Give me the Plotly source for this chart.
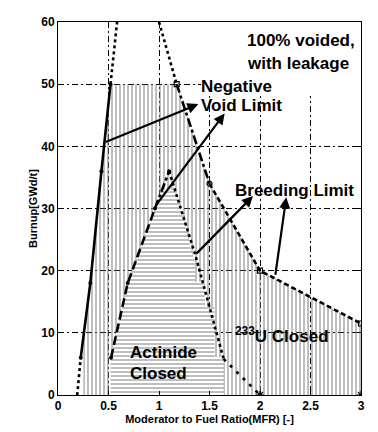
import plotly.graph_objects as go

# ---------------- data ----------------
x_ticks = [0, 0.5, 1, 1.5, 2, 2.5, 3]
x_ticklabels = ["0", "0.5", "1", "1.5", "2", "2.5", "3"]
y_ticks = [0, 10, 20, 30, 40, 50, 60]
y_ticklabels = ["0", "10", "20", "30", "40", "50", "60"]

# left limit line (negative void limit, low MFR side)
left_x = [0.19, 0.225, 0.32, 0.43, 0.458, 0.52, 0.585]
left_y = [0, 6, 18, 36, 40.6, 50, 60]

# right limit line (negative void / breeding limit)
right_x = [1.0, 1.175, 1.5, 2.0, 3.0]
right_y = [60, 50, 34, 20, 11.5]

# actinide closed boundary
act_left_x = [0.525, 0.69, 0.96, 1.10]
act_left_y = [6, 18, 30, 36]
act_right_x = [1.10, 1.36, 1.64, 2.0]
act_right_y = [36, 22.5, 5.8, 0]

# 233U closed region (vertical hatching)
u_region_x = [0.25, 0.25, 0.32, 0.43, 0.458, 0.52, 1.175, 1.5, 2.0, 3.0, 3.0]
u_region_y = [0, 8, 18, 36, 40.6, 50, 50, 34, 20, 11.5, 0]

# actinide closed region (horizontal hatching, stepped)
act_region_x = [0.52, 0.52, 0.69, 0.96, 1.03, 1.17, 1.34, 1.356, 1.356, 1.455, 1.455, 1.55, 1.55, 1.64, 1.64]
act_region_y = [0, 6, 18, 30, 33, 33, 22, 22, 18.2, 18.2, 14.1, 14.1, 6.1, 6.1, 0]

# end markers on the x axis
end_x = [2.0, 3.0]
end_y = [0, 0]

# arrows (tail -> head)
arrow_tail_x = [0.458, 0.96, 1.356, 2.15]
arrow_tail_y = [40.6, 30.3, 22.5, 19.1]
arrow_head_x = [1.39, 1.65, 1.93, 2.26]
arrow_head_y = [46.8, 45.3, 32.0, 31.8]

# text labels
label_texts = ["100% voided,", "with leakage", "Negative", "Void Limit", "Breeding Limit",
               "Actinide", "Closed", "<sup>233</sup>U Closed"]
label_x = [1.85, 1.85, 1.396, 1.396, 1.733, 0.69, 0.69, 1.733]
label_y = [57.1, 53.4, 49.6, 46.5, 32.9, 6.8, 3.4, 9.6]

# ---------------- figure ----------------
FONT = "Arial, Liberation Sans, Helvetica, sans-serif"
fig = go.Figure()

hatch_col = "#7d7d7d"
fig.add_trace(go.Scatter(
    x=u_region_x, y=u_region_y, mode="none", fill="toself",
    fillcolor="rgba(0,0,0,0)",
    fillpattern=dict(shape="|", size=4, solidity=0.5, fgcolor=hatch_col,
                     bgcolor="rgba(0,0,0,0)"),
    hoverinfo="skip", showlegend=False))
fig.add_trace(go.Scatter(
    x=act_region_x, y=act_region_y, mode="none", fill="toself",
    fillcolor="white",
    fillpattern=dict(shape="-", size=4, solidity=0.5, fgcolor=hatch_col,
                     bgcolor="white"),
    hoverinfo="skip", showlegend=False))

def seg(xs, ys, dash, width=2.6):
    fig.add_trace(go.Scatter(
        x=xs, y=ys, mode="lines",
        line=dict(color="black", width=width, dash=dash),
        hoverinfo="skip", showlegend=False))

dotm = dict(symbol="circle", size=4, color="black")
# left line
seg(left_x[0:2], left_y[0:2], "dot")
seg(left_x[1:6], left_y[1:6], "solid", width=2.6)
seg(left_x[5:7], left_y[5:7], "dot")
fig.add_trace(go.Scatter(x=[left_x[i] for i in (1, 2, 3, 5)], y=[left_y[i] for i in (1, 2, 3, 5)],
                         mode="markers", marker=dotm, hoverinfo="skip", showlegend=False))
# right line
seg(right_x[0:2], right_y[0:2], "dot")
seg(right_x[1:3], right_y[1:3], "dashdot")
seg(right_x[2:5], right_y[2:5], "5px,3px")
fig.add_trace(go.Scatter(x=[right_x[1], right_x[3], right_x[4]], y=[right_y[1], right_y[3], right_y[4]],
                         mode="markers",
                         marker=dict(symbol="square-open", size=5, color="black", line=dict(width=1.2)),
                         hoverinfo="skip", showlegend=False))
fig.add_trace(go.Scatter(x=[right_x[2]], y=[right_y[2]], mode="markers",
                         marker=dict(symbol="circle-open", size=5, color="black", line=dict(width=1.2)),
                         hoverinfo="skip", showlegend=False))
# actinide boundary
seg(act_left_x[0:3], act_left_y[0:3], "9px,4px")
seg(act_left_x[2:4], act_left_y[2:4], "dashdot")
seg(act_right_x[0:3], act_right_y[0:3], "dot")
seg(act_right_x[2:4], act_right_y[2:4], "3px,6px")
fig.add_trace(go.Scatter(x=act_left_x, y=act_left_y, mode="markers", marker=dotm,
                         hoverinfo="skip", showlegend=False))
fig.add_trace(go.Scatter(x=end_x, y=end_y, mode="markers",
                         marker=dict(symbol="asterisk-open", size=7, color="black", line=dict(width=1.2)),
                         hoverinfo="skip", showlegend=False))

# white box behind the title text (hides the grid there)
fig.add_annotation(x=1.0, y=1.0, xref="x domain", yref="y domain", xanchor="right", yanchor="top",
                   text=" ", showarrow=False, width=160, height=74, bgcolor="white",
                   borderwidth=0, borderpad=0)

# arrows
for tx, ty, hx, hy in zip(arrow_tail_x, arrow_tail_y, arrow_head_x, arrow_head_y):
    fig.add_annotation(x=hx, y=hy, ax=tx, ay=ty, xref="x", yref="y", axref="x", ayref="y",
                       text="", showarrow=True, arrowhead=2, arrowsize=1.0,
                       arrowwidth=2.2, arrowcolor="black")

# labels
for t, lx, ly in zip(label_texts, label_x, label_y):
    fig.add_annotation(x=lx, y=ly, xref="x", yref="y", text="<b>" + t + "</b>",
                       showarrow=False, xanchor="left", yanchor="middle",
                       font=dict(family=FONT, size=17, color="black"))

axis_common = dict(
    showline=True, linecolor="black", linewidth=1, mirror="ticks",
    ticks="inside", ticklen=4, tickcolor="black",
    showgrid=True, gridcolor="black", gridwidth=1, griddash="6px,3px,2px,3px",
    zeroline=False, automargin=False,
    tickfont=dict(family=FONT, size=12, color="black", weight="bold"),
)
fig.update_xaxes(range=[0, 3], tickvals=x_ticks, ticktext=x_ticklabels, **axis_common,
                 title=dict(text="<b>Moderator to Fuel Ratio(MFR) [-]</b>", standoff=2,
                            font=dict(family=FONT, size=11, color="black")))
fig.update_yaxes(range=[0, 60], tickvals=y_ticks, ticktext=y_ticklabels, **axis_common,
                 title=dict(text="<b>Burnup[GWd/t]</b>", standoff=1,
                            font=dict(family=FONT, size=11, color="black")))

fig.update_layout(width=378, height=432, margin=dict(l=58, r=17, t=22, b=37),
                  plot_bgcolor="white", paper_bgcolor="white", showlegend=False)

fig.write_html("out.html", config={"displayModeBar": False},
               post_script="document.body.style.margin='0';")
